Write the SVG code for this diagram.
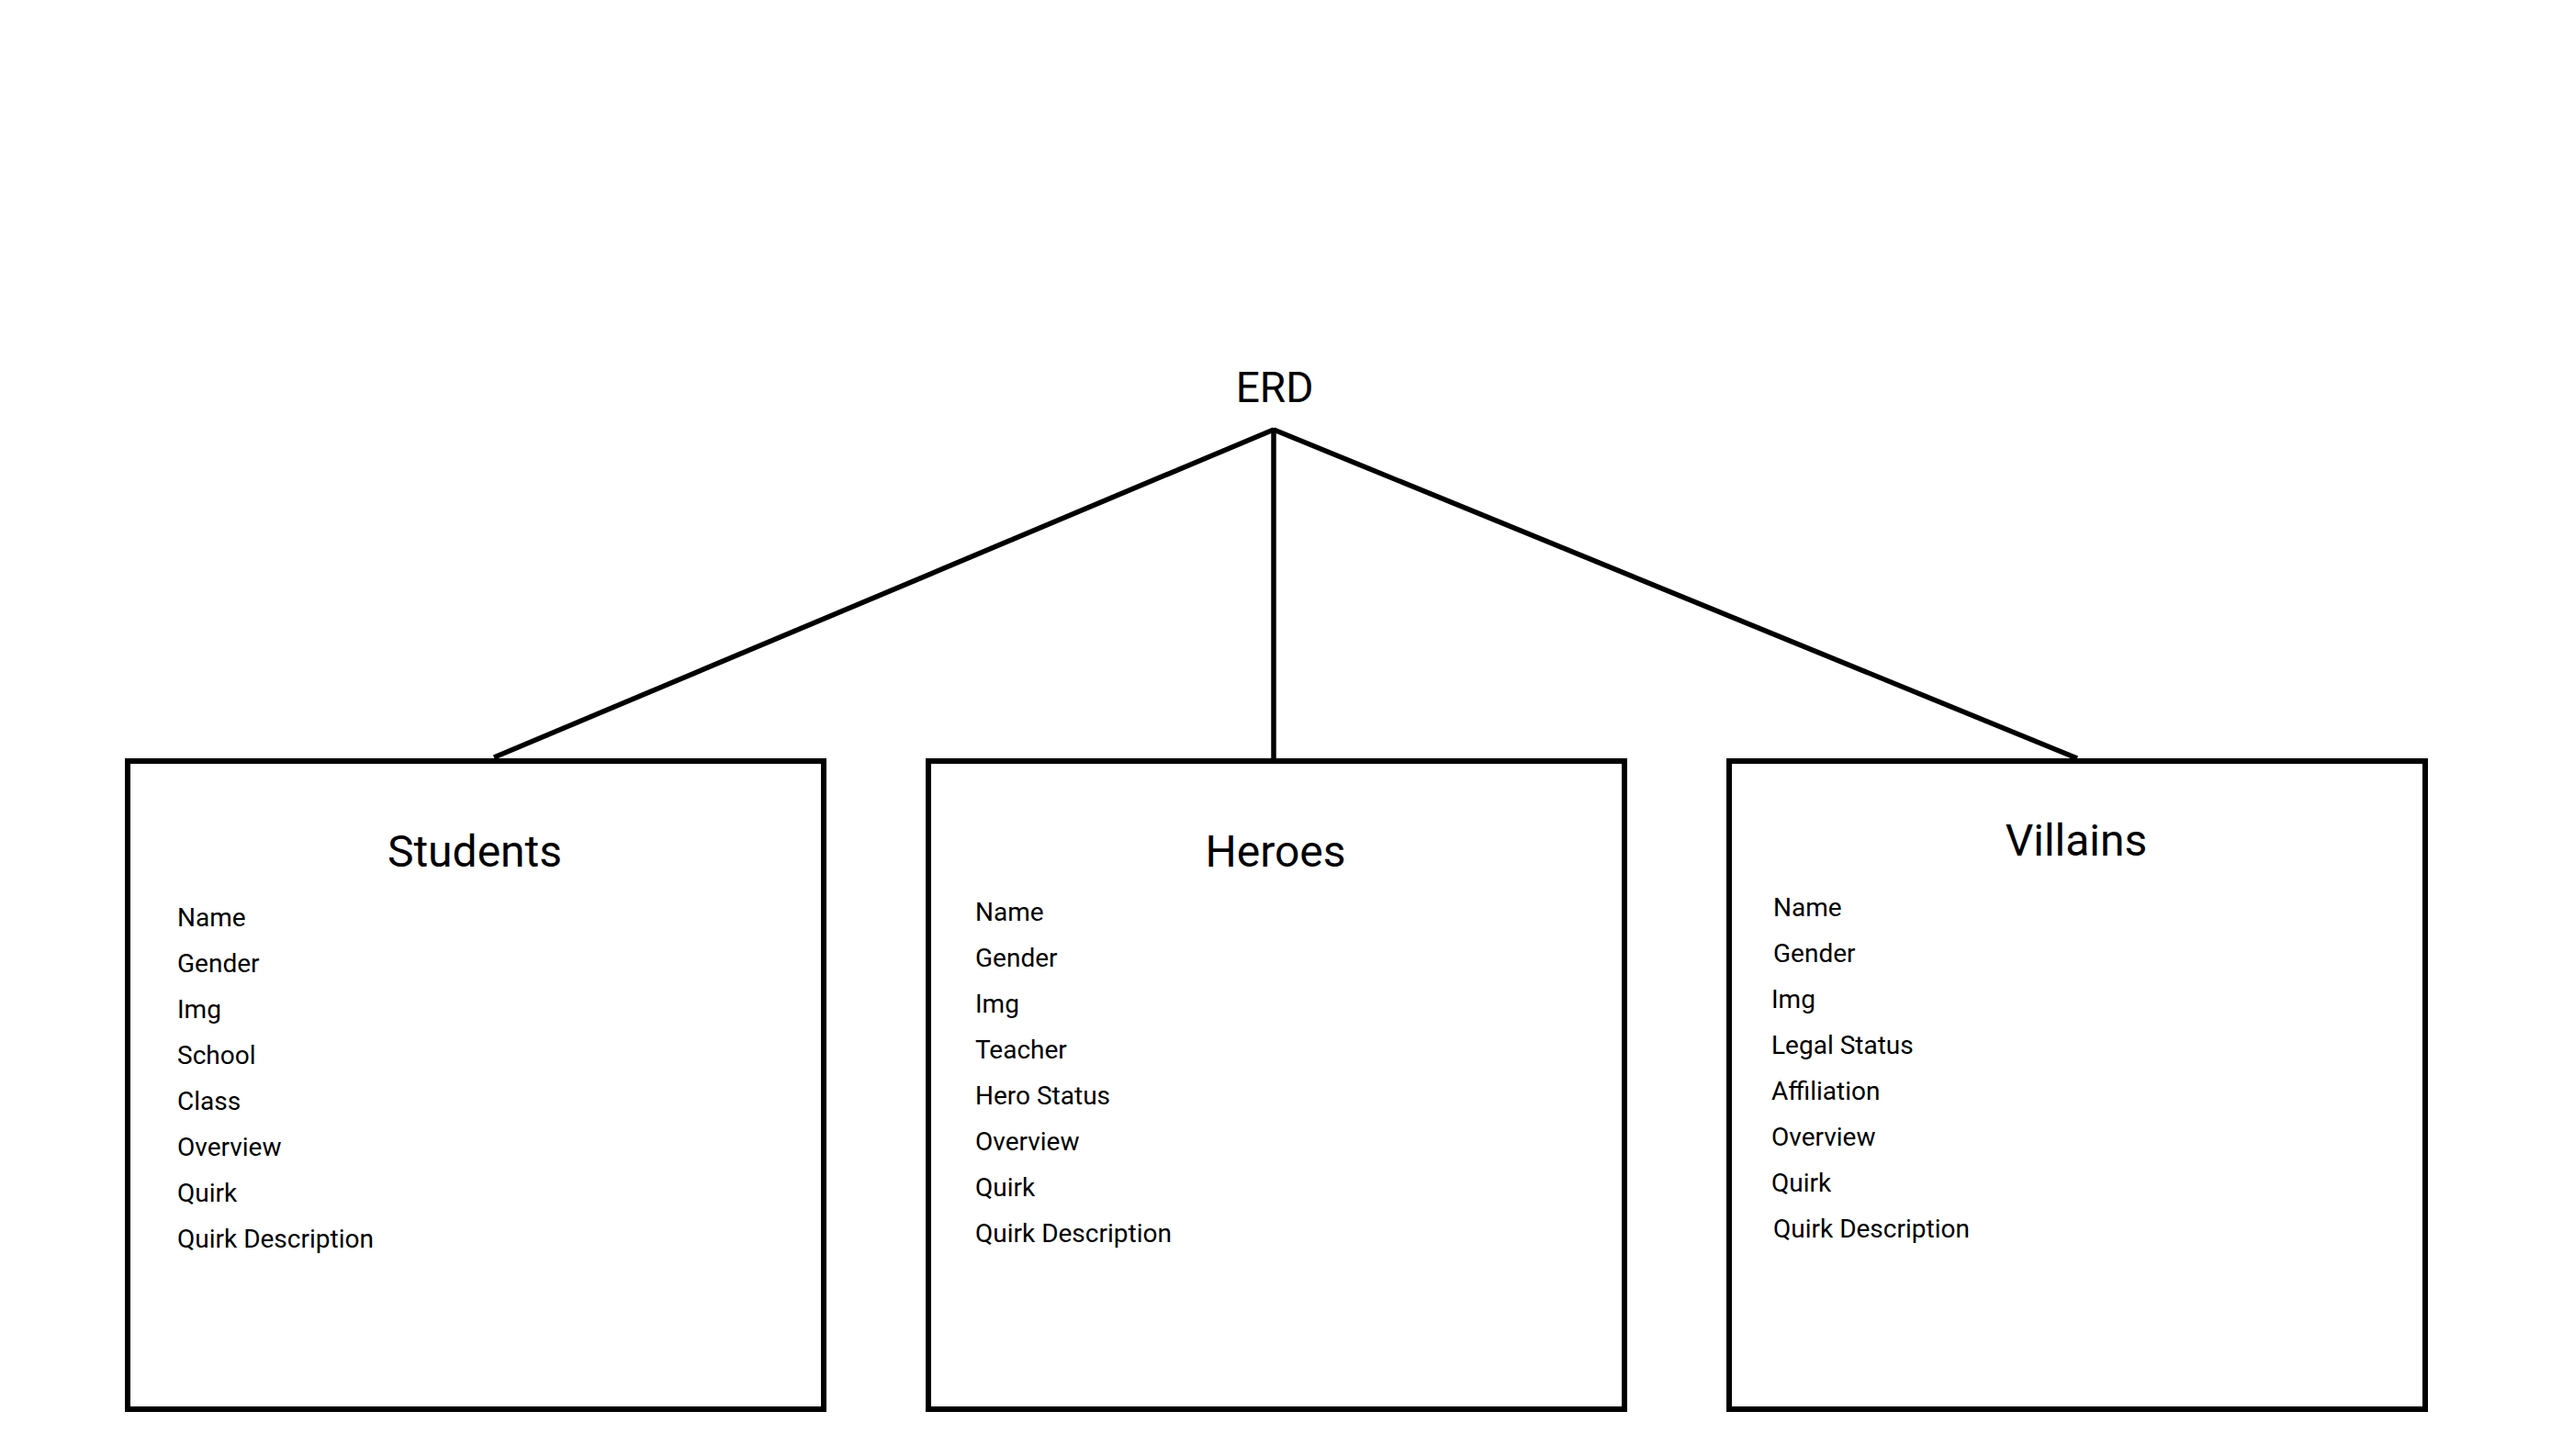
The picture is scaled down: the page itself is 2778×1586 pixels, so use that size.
<svg xmlns="http://www.w3.org/2000/svg" width="2778" height="1586" viewBox="0 0 2778 1586">
<style>
.box{fill:#fff;stroke:#000;stroke-width:6}
.conn line{stroke:#000;stroke-width:5.5;fill:none}
text{font-family:Roboto,"Liberation Sans",sans-serif;fill:#000}
.title{font-size:48px;text-anchor:middle}
.erd{font-size:46px;text-anchor:middle}
.attr{font-size:28px}
</style>
<rect width="2778" height="1586" fill="#fff"/>
<g id="connectors" class="conn">
<line x1="1387" y1="468" x2="538" y2="825"/>
<line x1="1387" y1="466" x2="1387" y2="836"/>
<line x1="1387" y1="468" x2="2262" y2="826"/>
</g>
<g id="erd">
<text class="erd" x="1388" y="438">ERD</text>
</g>
<g id="students">
<rect class="box" x="139" y="829" width="758" height="706"/>
<text class="title" x="517" y="944">Students</text>
<text class="attr" x="193" y="1009">Name</text>
<text class="attr" x="193" y="1059">Gender</text>
<text class="attr" x="193" y="1109">Img</text>
<text class="attr" x="193" y="1159">School</text>
<text class="attr" x="193" y="1209">Class</text>
<text class="attr" x="193" y="1259">Overview</text>
<text class="attr" x="193" y="1309">Quirk</text>
<text class="attr" x="193" y="1359">Quirk Description</text>
</g>
<g id="heroes">
<rect class="box" x="1011" y="829" width="758" height="706"/>
<text class="title" x="1389" y="944">Heroes</text>
<text class="attr" x="1062" y="1003">Name</text>
<text class="attr" x="1062" y="1053">Gender</text>
<text class="attr" x="1062" y="1103">Img</text>
<text class="attr" x="1062" y="1153">Teacher</text>
<text class="attr" x="1062" y="1203">Hero Status</text>
<text class="attr" x="1062" y="1253">Overview</text>
<text class="attr" x="1062" y="1303">Quirk</text>
<text class="attr" x="1062" y="1353">Quirk Description</text>
</g>
<g id="villains">
<rect class="box" x="1883" y="829" width="758" height="706"/>
<text class="title" x="2261" y="932">Villains</text>
<text class="attr" x="1931" y="998">Name</text>
<text class="attr" x="1931" y="1048">Gender</text>
<text class="attr" x="1929" y="1098">Img</text>
<text class="attr" x="1929" y="1148">Legal Status</text>
<text class="attr" x="1929" y="1198">Affiliation</text>
<text class="attr" x="1929" y="1248">Overview</text>
<text class="attr" x="1929" y="1298">Quirk</text>
<text class="attr" x="1931" y="1348">Quirk Description</text>
</g>
</svg>
